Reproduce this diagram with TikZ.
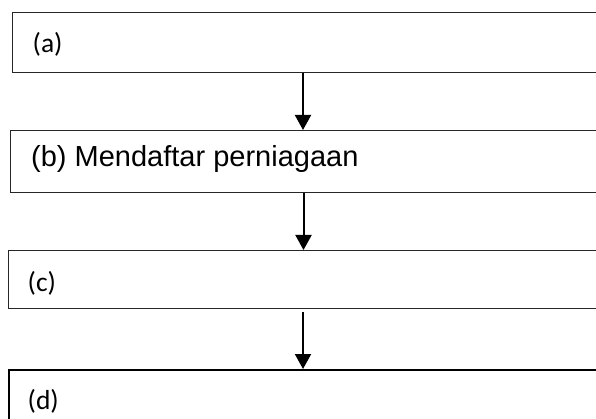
\documentclass[tikz,border=0pt]{standalone}
\usepackage{fontspec}
\setmainfont{Liberation Sans}
\newfontfamily\calibrifont{Carlito}
\newfontfamily\arialfont{Liberation Sans}
\usetikzlibrary{arrows.meta}
\tikzset{
  boxnode/.style={draw=black!85, line width=1.3pt, anchor=north west, inner sep=0pt, minimum width=600pt},
  labc/.style={anchor=base west, inner sep=0pt, font=\calibrifont\fontsize{27.5}{30}\selectfont},
  labar/.style={anchor=base west, inner sep=0pt, font=\arialfont\fontsize{29}{32}\selectfont},
  arr/.style={line width=2pt, -{Triangle[width=16pt,length=15pt]}}
}
\begin{document}
\begin{tikzpicture}[x=1pt,y=-1pt]
\clip (0,0) rectangle (596,419);
\fill[white] (0,0) rectangle (596,419);
\node[boxnode, minimum height=60pt] (A) at (12,12) {};
\node[boxnode, minimum height=62pt] (B) at (10,130) {};
\node[boxnode, minimum height=58pt] (C) at (8,250) {};
\node[boxnode, minimum height=80pt, draw=black, line width=1.5pt] (D) at (8,369) {};
\node[labc] (ta) at (32.5,53) {(a)};
\node[labar] (tb) at (31,167) {(b) Mendaftar perniagaan};
\node[labc] (tc) at (27.5,291) {(c)};
\node[labc] (td) at (27.5,409) {(d)};
\coordinate (x1) at (303,0);
\coordinate (x2) at (303.5,0);
\draw[arr] (A.south -| x1) -- (B.north -| x1);
\draw[arr] (B.south -| x2) -- (C.north -| x2);
\draw[arr, shorten <=3pt] (C.south -| x1) -- (D.north -| x1);
\end{tikzpicture}
\end{document}
